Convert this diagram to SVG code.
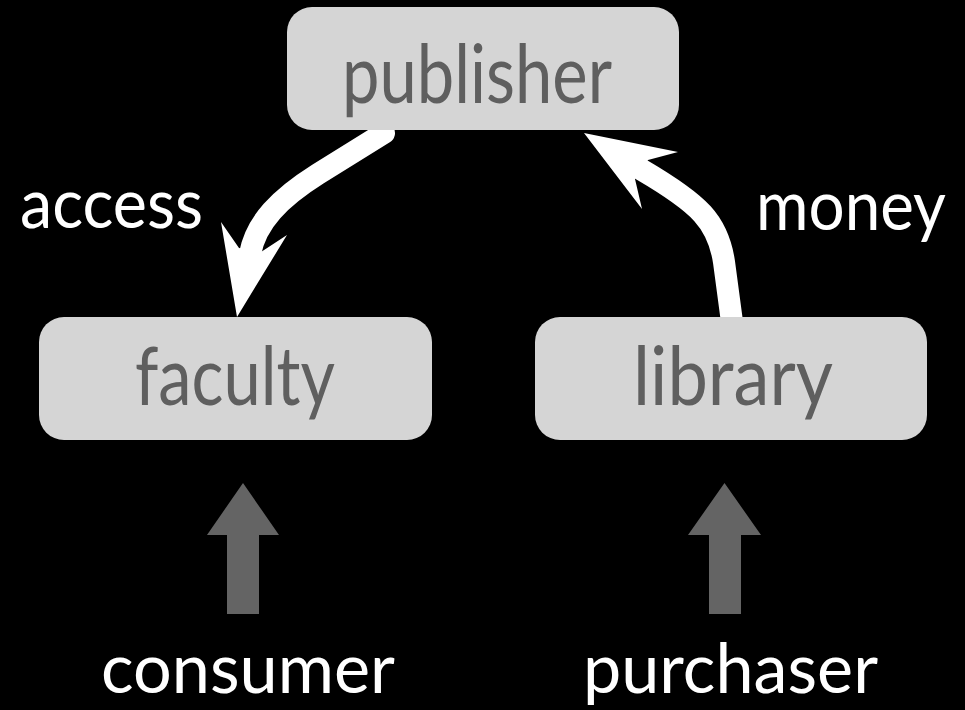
<svg xmlns="http://www.w3.org/2000/svg" width="965" height="710" viewBox="0 0 965 710">
<style>
.box{fill:#d5d5d5;}
.ntext{font-family:Lato,"Open Sans","DejaVu Sans",sans-serif;font-size:82px;fill:#5f5f5f;}
.label{font-family:Lato,"Open Sans","DejaVu Sans",sans-serif;font-size:70px;fill:#ffffff;}
.flow{fill:none;stroke:#ffffff;stroke-width:22;stroke-linecap:round;}
.head{fill:#ffffff;}
.gray{fill:#646464;}
</style>
<rect x="0" y="0" width="965" height="710" fill="#000000"/>
<g id="connectors">
  <g id="access-arrow">
    <path class="flow" d="M384 133 L318 174 C280 198 256 222 250 254"/>
    <path class="head" d="M237 317 L221 222 L239 248 L261 252 L287 235 Z"/>
  </g>
  <g id="money-arrow">
    <path class="flow" d="M732 322 L724 262 C718 222 700 204 642 170"/>
    <path class="head" d="M584 133 L678 152 L648 160 L635 179 L642 209 Z"/>
  </g>
  <g id="consumer-arrow">
    <path class="gray" d="M243 483 L279 535 L259 535 L259 614 L227 614 L227 535 L207 535 Z"/>
  </g>
  <g id="purchaser-arrow">
    <path class="gray" d="M724.5 483 L761 535 L741 535 L741 614 L709 614 L709 535 L688 535 Z"/>
  </g>
  <text class="label" x="20" y="228" textLength="183" lengthAdjust="spacingAndGlyphs">access</text>
  <text class="label" x="756" y="230" textLength="190" lengthAdjust="spacingAndGlyphs">money</text>
</g>
<g id="publisher">
  <rect class="box" x="287" y="7" width="392" height="123" rx="25" ry="25"/>
  <text class="ntext" x="342" y="103" textLength="270" lengthAdjust="spacingAndGlyphs">publisher</text>
</g>
<g id="faculty">
  <rect class="box" x="39" y="317" width="393" height="123" rx="25" ry="25"/>
  <text class="ntext" x="135" y="405" textLength="200" lengthAdjust="spacingAndGlyphs">faculty</text>
</g>
<g id="library">
  <rect class="box" x="535" y="317" width="392" height="123" rx="25" ry="25"/>
  <text class="ntext" x="633" y="405" textLength="200" lengthAdjust="spacingAndGlyphs">library</text>
</g>
<g id="consumer">
  <text class="label" x="101" y="693" textLength="294" lengthAdjust="spacingAndGlyphs">consumer</text>
</g>
<g id="purchaser">
  <text class="label" x="583" y="693" textLength="295" lengthAdjust="spacingAndGlyphs">purchaser</text>
</g>
</svg>
